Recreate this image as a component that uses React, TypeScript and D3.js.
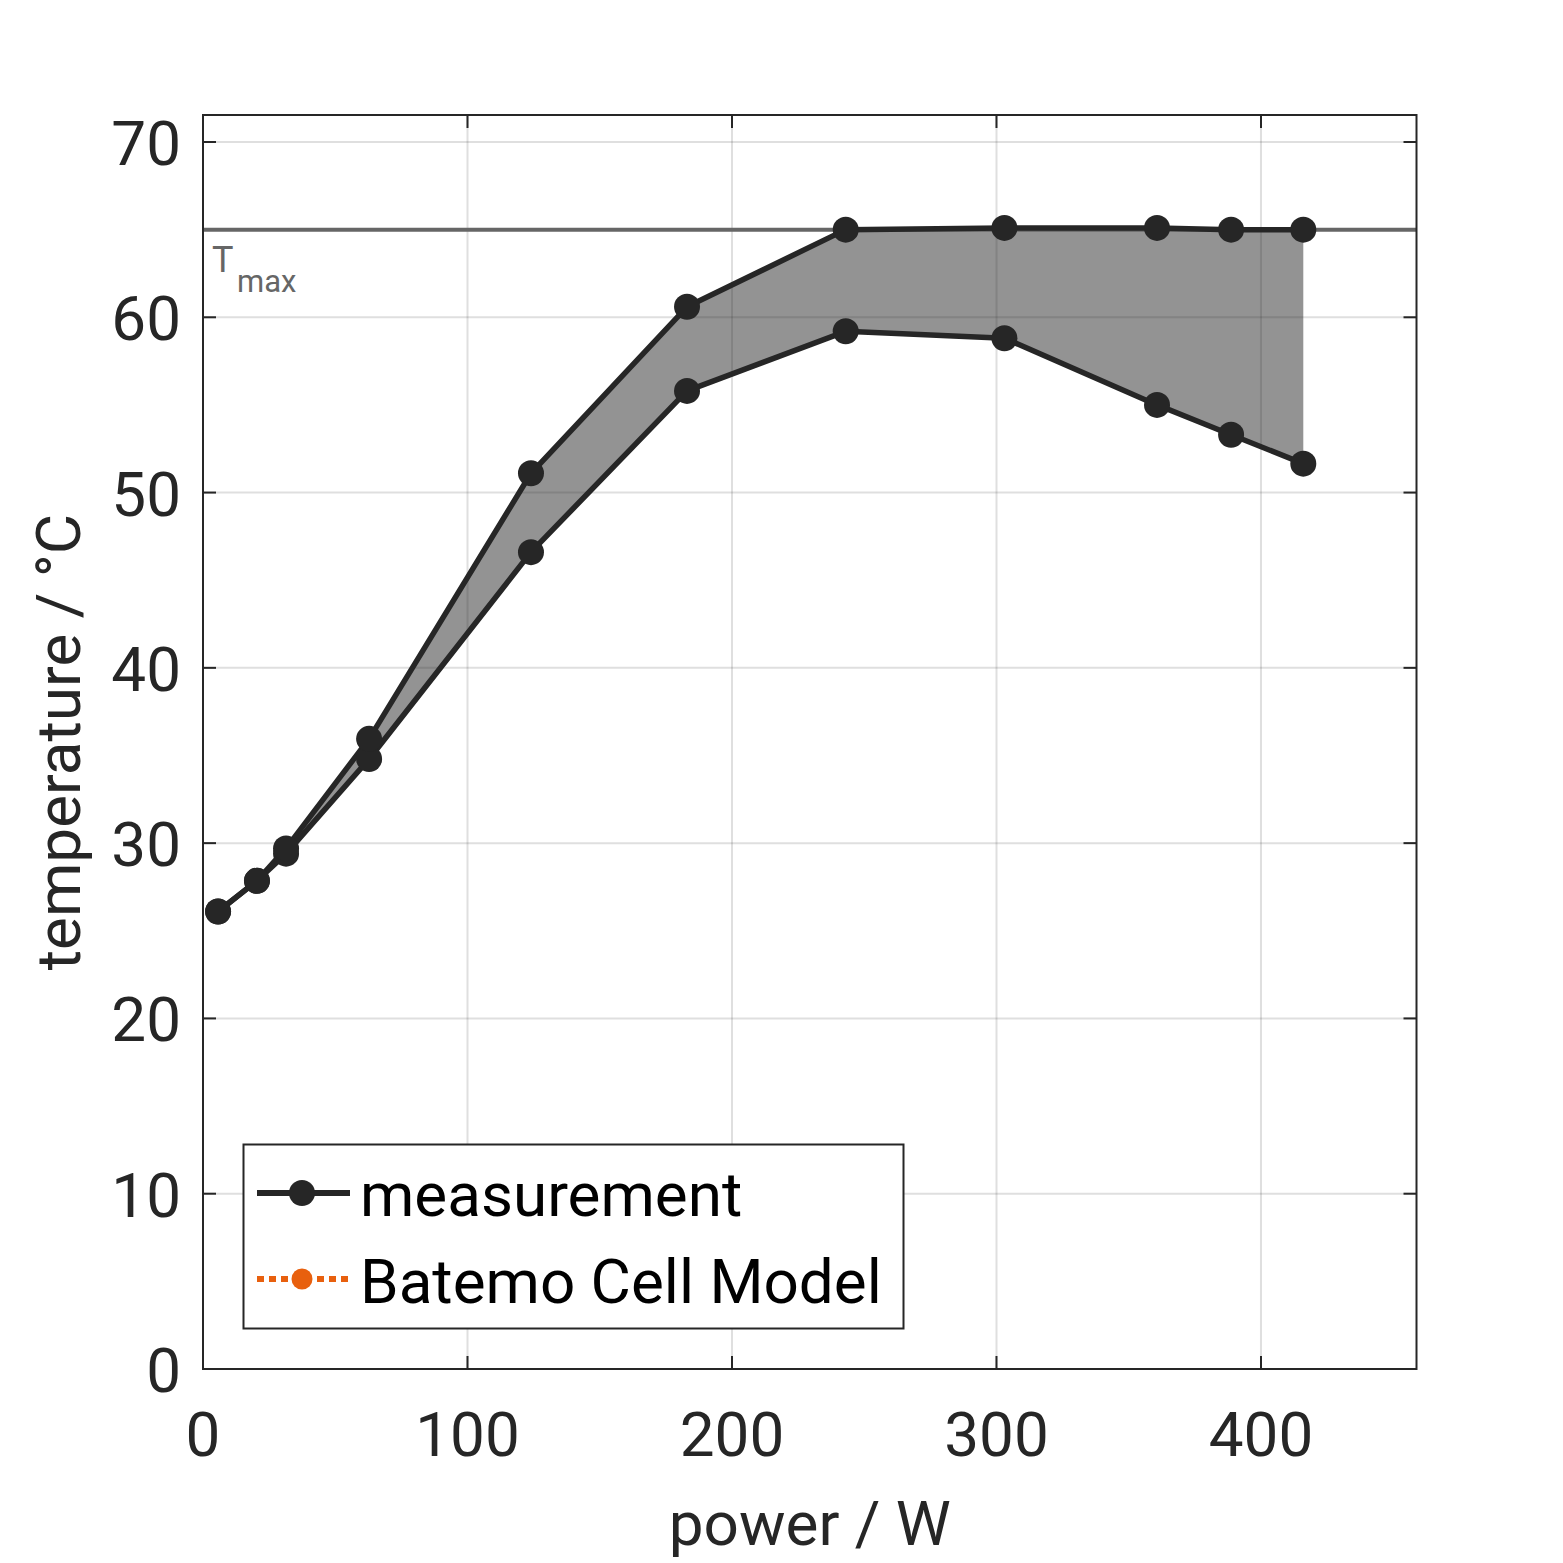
import React from "react";
import * as d3 from "d3";

const power = [5.7, 20.4, 31.4, 62.8, 124, 183, 243, 303, 360.7, 388.7, 416];
const tempUpper = [26.1, 27.85, 29.7, 35.95, 51.1, 60.6, 65.0, 65.1, 65.1, 65.0, 65.0];
const tempLower = [26.1, 27.85, 29.4, 34.8, 46.6, 55.8, 59.2, 58.8, 55.0, 53.3, 51.65];
const tMax = 65;
const xTicks = [0, 100, 200, 300, 400];
const yTicks = [0, 10, 20, 30, 40, 50, 60, 70];
const legendLabels = ["measurement", "Batemo Cell Model"];

const W = 1563;
const H = 1563;
const left = 203, right = 1416.5, top = 115, bottom = 1369;
const ink = "#262626";
const font = "Roboto, 'Noto Sans', sans-serif";

export default function App() {
  const x = d3.scaleLinear().domain([0, 458.8]).range([left, right]);
  const y = d3.scaleLinear().domain([0, 71.54]).range([bottom, top]);
  const pts = power.map((p, i) => ({ p, u: tempUpper[i], l: tempLower[i] }));
  const area = d3.area<any>().x((d) => x(d.p)).y0((d) => y(d.l)).y1((d) => y(d.u));
  const lineU = d3.line<any>().x((d) => x(d.p)).y((d) => y(d.u));
  const lineL = d3.line<any>().x((d) => x(d.p)).y((d) => y(d.l));
  const tick = 13;

  return (
    <svg width={W} height={H} style={{ display: "block", position: "absolute", left: 0, top: 0 }} fontFamily={font}>
      <rect x={0} y={0} width={W} height={H} fill="#fff" />
      <path d={area(pts) || ""} fill="#939393" stroke="none" />
      {/* grid */}
      <g stroke={ink} strokeOpacity={0.15} strokeWidth={2}>
        {xTicks.filter((t) => t > 0).map((t) => (
          <line key={"gx" + t} x1={x(t)} x2={x(t)} y1={top} y2={bottom} />
        ))}
        {yTicks.filter((t) => t > 0).map((t) => (
          <line key={"gy" + t} x1={left} x2={right} y1={y(t)} y2={y(t)} />
        ))}
      </g>
      {/* Tmax line */}
      <line x1={left} x2={right} y1={y(tMax)} y2={y(tMax)} stroke="#666" strokeWidth={4} />
      <text x={212} y={272} fill="#666" fontSize={36}>T</text>
      <text x={237} y={292} fill="#666" fontSize={31}>max</text>
      {/* data */}
      <path d={lineU(pts) || ""} fill="none" stroke={ink} strokeWidth={5.5} strokeLinejoin="round" />
      <path d={lineL(pts) || ""} fill="none" stroke={ink} strokeWidth={5.5} strokeLinejoin="round" />
      {pts.map((d, i) => (
        <g key={"m" + i} fill={ink}>
          <circle cx={x(d.p)} cy={y(d.l)} r={13} />
          <circle cx={x(d.p)} cy={y(d.u)} r={13} />
        </g>
      ))}
      {/* axes box and ticks */}
      <rect x={left} y={top} width={right - left} height={bottom - top} fill="none" stroke={ink} strokeWidth={2} />
      <g stroke={ink} strokeWidth={2}>
        {xTicks.map((t) => (
          <g key={"tx" + t}>
            <line x1={x(t)} x2={x(t)} y1={bottom} y2={bottom - tick} />
            <line x1={x(t)} x2={x(t)} y1={top} y2={top + tick} />
          </g>
        ))}
        {yTicks.map((t) => (
          <g key={"ty" + t}>
            <line x1={left} x2={left + tick} y1={y(t)} y2={y(t)} />
            <line x1={right} x2={right - tick} y1={y(t)} y2={y(t)} />
          </g>
        ))}
      </g>
      <g fill={ink} fontSize={62}>
        {xTicks.map((t) => (
          <text key={"lx" + t} x={x(t)} y={1456} textAnchor="middle">{t}</text>
        ))}
        {yTicks.map((t) => (
          <text key={"ly" + t} x={181} y={y(t) + 23} textAnchor="end">{t}</text>
        ))}
      </g>
      <text x={(left + right) / 2} y={1545} textAnchor="middle" fill={ink} fontSize={62}>power / W</text>
      <text transform={`translate(80, ${(top + bottom) / 2}) rotate(-90)`} textAnchor="middle" fill={ink} fontSize={62}>temperature / °C</text>
      {/* legend */}
      <rect x={243.5} y={1144.5} width={660} height={184} fill="#fff" stroke={ink} strokeWidth={2} />
      <line x1={257} x2={350} y1={1193} y2={1193} stroke={ink} strokeWidth={6} />
      <circle cx={302} cy={1193} r={13} fill={ink} />
      <line x1={257} x2={350} y1={1279} y2={1279} stroke="#E8600E" strokeWidth={6} strokeDasharray="7 5" />
      <circle cx={302} cy={1279} r={10.5} fill="#E8600E" />
      <text x={360} y={1216} fontSize={62} fill="#000">{legendLabels[0]}</text>
      <text x={360} y={1303} fontSize={62} fill="#000">{legendLabels[1]}</text>
    </svg>
  );
}
